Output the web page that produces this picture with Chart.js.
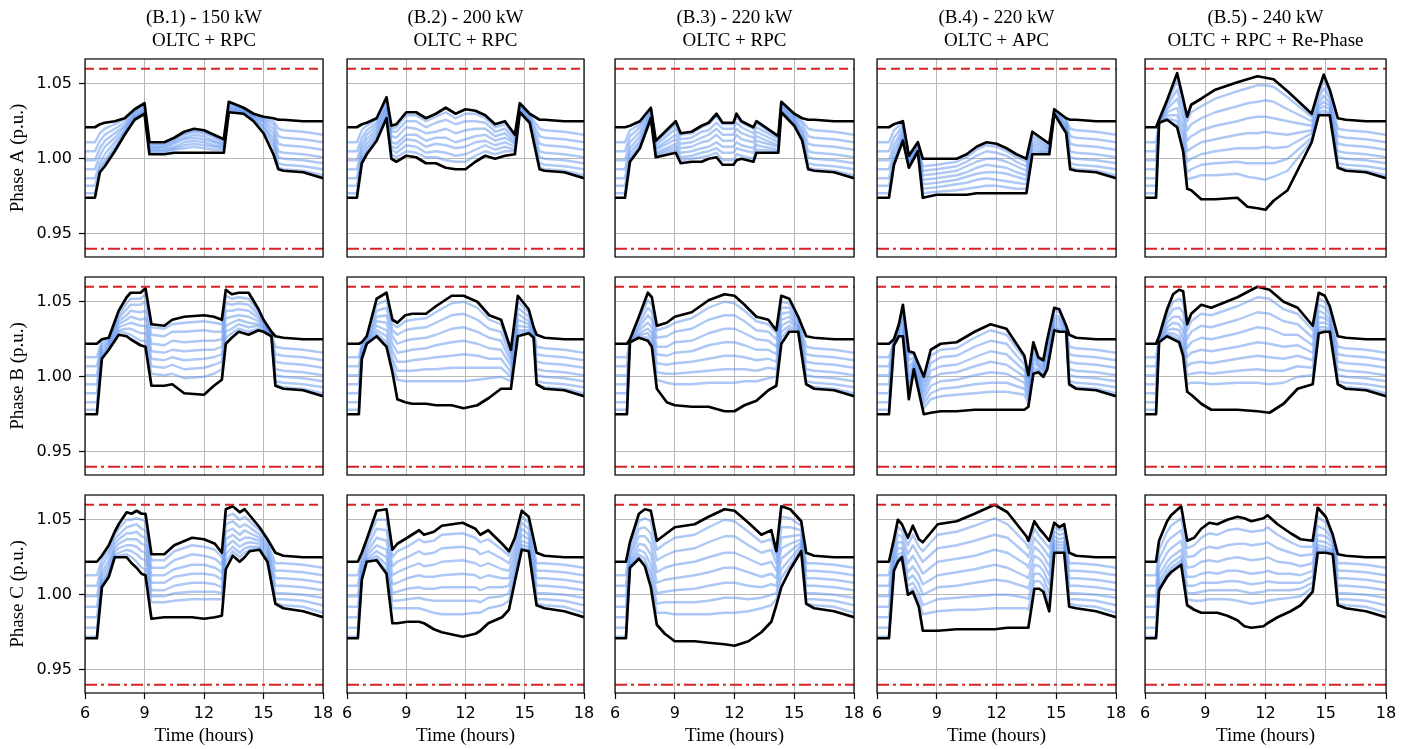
<!DOCTYPE html>
<html><head><meta charset="utf-8">
<script src="https://cdn.jsdelivr.net/npm/chart.js@4.4.1/dist/chart.umd.min.js"></script>
<style>
html,body{margin:0;padding:0;background:#fff;}
#fig{position:relative;width:1413px;height:749px;overflow:hidden;background:#fff;}
#fig canvas{position:absolute;}
</style></head><body><div id="fig"></div>
<script>
// ---------------- DATA ----------------
// Voltages are stored in milli-p.u. (1000 = 1.000 p.u.).
// Each row of a v-array = one time step: [max (black), 7 blue feeder lines (top->bottom), min (black)]
const xTicks = [6, 9, 12, 15, 18];
const yTicks = [0.95, 1.00, 1.05];
const upperLimit = [1.06, 1.06];
const lowerLimit = [0.94, 0.94];
const limitSpan = [6, 18];
const titles = [
  ['(B.1) - 150 kW', 'OLTC + RPC'],
  ['(B.2) - 200 kW', 'OLTC + RPC'],
  ['(B.3) - 220 kW', 'OLTC + RPC'],
  ['(B.4) - 220 kW', 'OLTC + APC'],
  ['(B.5) - 240 kW', 'OLTC + RPC + Re-Phase']
];
const phaseLabels = ['Phase A (p.u.)', 'Phase B (p.u.)', 'Phase C (p.u.)'];
const xLabel = 'Time (hours)';

// early-morning and evening rows (same in every case)
const headA = [1021,1011,1005,999,993,987,982,977,974];
const headB = [1022,1013,1007,1001,995,989,983,978,975];
const headC = [1022,1013,1006,999,992,985,978,972,971];
const tailAB16 = [1026,1019,1014,1009,1004,1000,996,993,992];
const tailAB17 = [1025,1018,1013,1008,1003,999,995,992,991];
const tailAB18 = [1025,1016,1011,1006,1001,997,993,989,987];
const tailC16 = [1026,1021,1016,1011,1006,1001,997,993,991];
const tailC17 = [1025,1020,1015,1010,1005,1000,996,992,989];
const tailC18 = [1025,1018,1013,1008,1003,998,993,988,985];

// ---- Phase A ----
const tA1 = [6,6.5,6.75,7,7.5,8,8.5,9,9.25,10,10.5,11,11.5,12,12.5,13,13.25,14,14.5,15,15.5,15.75,16,17,18];
const vA1 = [headA,headA,
 [1023,1017,1012,1007,1002,997,994,992,991],
 [1024,1020,1016,1012,1008,1003,999,997,995],
 [1025,1023,1020,1017,1014,1011,1008,1006,1005],
 [1027,1026,1024,1022,1021,1019,1018,1017,1016],
 [1033,1032,1031,1030,1029,1028,1027,1027,1026],
 [1037,1036,1035,1034,1033,1032,1032,1031,1030],
 [1011,1010,1009,1008,1007,1006,1005,1004,1003],
 [1011,1010,1009,1008,1007,1006,1005,1004,1003],
 [1014,1013,1012,1011,1010,1008,1007,1006,1004],
 [1018,1017,1016,1014,1013,1011,1009,1007,1004],
 [1020,1019,1018,1016,1014,1012,1010,1008,1004],
 [1019,1018,1017,1015,1013,1011,1009,1007,1004],
 [1016,1015,1014,1012,1011,1009,1008,1006,1004],
 [1013,1012,1011,1010,1009,1008,1007,1006,1004],
 [1038,1037,1036,1035,1034,1033,1033,1032,1031],
 [1034,1033,1033,1032,1032,1031,1031,1030,1030],
 [1030,1029,1029,1028,1028,1027,1026,1026,1025],
 [1028,1027,1026,1025,1024,1022,1021,1019,1017],
 [1027,1025,1023,1020,1017,1014,1011,1008,1003],
 [1026,1020,1015,1010,1005,1001,997,994,993],
 tailAB16,tailAB17,tailAB18];

const tA2 = [6,6.5,6.75,7,7.5,8,8.25,8.5,9,9.5,10,10.5,11,11.5,12,12.5,13,13.5,14,14.5,14.75,15.25,15.75,16,17,18];
const vA2 = [headA,headA,
 [1023,1019,1014,1010,1007,1004,1001,999,997],
 [1024,1022,1019,1016,1013,1010,1007,1005,1003],
 [1027,1026,1024,1022,1020,1018,1016,1014,1012],
 [1041,1039,1037,1035,1034,1032,1030,1029,1027],
 [1022,1020,1018,1015,1011,1008,1006,1003,1000],
 [1023,1021,1018,1014,1010,1007,1004,1001,998],
 [1031,1029,1025,1021,1016,1013,1009,1005,1002],
 [1031,1029,1025,1020,1016,1012,1008,1004,1001],
 [1027,1025,1021,1017,1012,1008,1004,1001,997],
 [1030,1028,1024,1018,1014,1010,1005,1001,997],
 [1034,1031,1026,1020,1014,1009,1004,999,994],
 [1030,1027,1023,1017,1011,1007,1002,998,993],
 [1033,1030,1025,1019,1013,1008,1003,998,993],
 [1032,1030,1025,1020,1015,1011,1006,1002,998],
 [1029,1027,1024,1020,1016,1012,1009,1005,1002],
 [1023,1021,1018,1015,1012,1009,1006,1003,1000],
 [1025,1023,1020,1017,1014,1011,1008,1005,1002],
 [1016,1015,1013,1011,1010,1008,1006,1005,1003],
 [1037,1036,1035,1034,1033,1033,1032,1031,1031],
 [1030,1029,1028,1027,1026,1025,1025,1024,1024],
 [1026,1020,1015,1010,1005,1001,997,994,993],
 tailAB16,tailAB17,tailAB18];

const tA3 = [6,6.5,6.75,7.25,7.8,8.05,9.05,9.3,9.85,10.35,10.7,11.1,11.4,11.95,12.1,12.35,12.95,13.1,14.2,14.35,15.0,15.4,15.7,16,17,18];
const vA3 = [headA,headA,
 [1022,1019,1015,1011,1007,1004,1001,999,998],
 [1025,1023,1021,1018,1015,1012,1010,1008,1007],
 [1034,1033,1032,1031,1030,1029,1028,1027,1027],
 [1012,1011,1009,1007,1006,1004,1003,1002,1001],
 [1025,1023,1020,1016,1013,1010,1008,1006,1004],
 [1017,1016,1013,1010,1007,1004,1001,999,997],
 [1018,1017,1014,1011,1008,1005,1002,1000,998],
 [1022,1021,1018,1014,1011,1007,1004,1001,998],
 [1024,1023,1019,1016,1012,1008,1005,1002,1000],
 [1030,1028,1024,1020,1016,1011,1007,1004,1001],
 [1024,1023,1020,1016,1012,1008,1004,999,996],
 [1024,1023,1020,1016,1012,1008,1004,999,996],
 [1030,1028,1024,1020,1016,1011,1007,1003,999],
 [1025,1024,1021,1017,1013,1009,1006,1002,1000],
 [1021,1020,1017,1014,1011,1007,1004,1000,998],
 [1025,1024,1021,1018,1015,1012,1009,1006,1004],
 [1015,1014,1013,1011,1009,1008,1006,1005,1004],
 [1038,1037,1036,1035,1034,1033,1032,1032,1031],
 [1030,1029,1028,1027,1026,1025,1024,1023,1022],
 [1027,1025,1023,1020,1018,1016,1014,1013,1012],
 [1026,1020,1015,1010,1005,1001,997,994,993],
 tailAB16,tailAB17,tailAB18];

const tA4 = [6,6.6,6.85,7.3,7.6,8.05,8.3,9,10,10.5,11,11.5,12,12.5,13,13.5,13.8,14.65,14.9,15.5,15.7,16,17,18];
const vA4 = [headA,headA,
 [1023,1019,1014,1009,1005,1001,998,996,996],
 [1025,1024,1022,1020,1018,1016,1014,1013,1012],
 [1002,1001,1000,999,998,997,996,995,994],
 [1011,1010,1009,1008,1007,1006,1005,1005,1005],
 [1000,995,992,989,986,983,980,977,974],
 [1000,996,993,990,987,984,981,978,976],
 [1000,998,995,992,989,986,983,979,976],
 [1003,1001,998,995,991,988,984,980,976],
 [1008,1006,1002,998,994,990,986,981,977],
 [1011,1009,1005,1000,996,991,987,982,977],
 [1010,1008,1004,1000,995,991,986,982,977],
 [1007,1005,1002,998,994,990,985,981,977],
 [1003,1001,998,995,991,988,984,980,977],
 [1000,998,995,992,989,986,983,980,977],
 [1018,1016,1014,1012,1010,1008,1006,1004,1003],
 [1010,1009,1008,1007,1006,1005,1004,1004,1003],
 [1033,1032,1032,1031,1031,1031,1030,1030,1030],
 [1027,1026,1025,1023,1022,1020,1019,1018,1017],
 [1026,1020,1015,1010,1005,1001,997,994,993],
 tailAB16,tailAB17,tailAB18];

const tA5 = [6,6.55,6.7,7.1,7.6,7.9,8.1,8.3,8.8,9.5,10.6,11.1,11.6,12.0,12.4,13.1,14.3,14.65,14.9,15.2,15.6,16,17,18];
const vA5 = [headA,headA,
 [1026,1025,1025,1024,1024,1024,1024,1024,1024],
 [1039,1037,1035,1033,1031,1029,1027,1026,1026],
 [1057,1052,1046,1040,1034,1029,1025,1022,1021],
 [1040,1037,1032,1027,1021,1016,1011,1007,1005],
 [1028,1025,1019,1012,1005,998,991,986,980],
 [1036,1031,1023,1015,1007,1000,993,987,979],
 [1040,1035,1027,1019,1011,1003,996,989,973],
 [1046,1040,1031,1022,1013,1005,997,989,973],
 [1051,1045,1035,1025,1016,1007,998,990,974],
 [1053,1047,1037,1027,1017,1007,997,988,968],
 [1055,1049,1038,1028,1017,1007,997,987,967],
 [1054,1049,1039,1028,1018,1008,997,986,966],
 [1053,1048,1038,1027,1017,1007,997,988,972],
 [1045,1041,1033,1025,1016,1008,1000,992,979],
 [1030,1028,1025,1022,1019,1017,1014,1012,1011],
 [1046,1043,1040,1037,1035,1033,1031,1030,1029],
 [1056,1052,1047,1042,1038,1035,1032,1030,1029],
 [1046,1043,1040,1037,1035,1033,1031,1030,1029],
 [1027,1020,1015,1010,1005,1001,997,995,994],
 tailAB16,tailAB17,tailAB18];

// ---- Phase B ----
const tB1 = [6,6.6,6.85,7.2,7.7,8.1,8.3,8.8,9.05,9.35,10.0,10.4,11.0,12.0,12.5,12.9,13.1,13.4,13.75,14.25,14.75,15.0,15.4,15.6,16,17,18];
const vB1 = [headB,headB,
 [1025,1024,1022,1020,1018,1016,1014,1013,1012],
 [1026,1025,1024,1023,1022,1021,1020,1019,1018],
 [1044,1041,1039,1037,1035,1033,1031,1030,1028],
 [1053,1049,1045,1041,1038,1035,1032,1029,1027],
 [1056,1052,1048,1044,1040,1036,1032,1028,1025],
 [1056,1052,1048,1043,1038,1034,1029,1024,1021],
 [1059,1055,1050,1044,1039,1034,1029,1024,1020],
 [1035,1033,1028,1022,1017,1012,1007,1002,994],
 [1034,1032,1027,1021,1016,1011,1006,1001,994],
 [1038,1035,1030,1024,1018,1013,1008,1002,995],
 [1040,1036,1030,1023,1017,1011,1005,999,989],
 [1041,1037,1031,1024,1018,1012,1006,1000,988],
 [1040,1036,1030,1024,1018,1013,1008,1002,994],
 [1038,1035,1030,1025,1020,1015,1010,1005,998],
 [1058,1054,1049,1044,1039,1034,1030,1026,1022],
 [1055,1052,1048,1044,1040,1036,1032,1029,1026],
 [1056,1053,1049,1045,1041,1038,1035,1032,1030],
 [1056,1052,1048,1044,1040,1036,1033,1030,1028],
 [1045,1043,1041,1039,1037,1035,1034,1032,1031],
 [1038,1037,1036,1035,1034,1033,1032,1031,1030],
 [1030,1029,1029,1028,1028,1028,1027,1027,1027],
 [1027,1020,1015,1010,1005,1001,997,995,994],
 tailAB16,tailAB17,tailAB18];

const tB2 = [6,6.6,6.75,7.0,7.5,8.0,8.3,8.55,8.95,9.3,10.0,10.5,11.3,11.9,12.6,13.2,13.8,14.3,14.65,15.2,15.45,15.6,16,17,18];
const vB2 = [headB,headB,
 [1023,1022,1020,1018,1016,1014,1013,1012,1012],
 [1027,1027,1026,1025,1024,1023,1023,1022,1022],
 [1052,1048,1044,1040,1037,1034,1031,1029,1027],
 [1056,1051,1046,1041,1036,1031,1027,1023,1020],
 [1038,1035,1031,1027,1022,1017,1012,1008,1003],
 [1036,1033,1028,1022,1016,1010,1004,998,985],
 [1041,1037,1031,1024,1017,1010,1004,997,983],
 [1042,1038,1032,1025,1018,1011,1004,997,982],
 [1042,1039,1033,1026,1019,1012,1005,997,982],
 [1047,1043,1036,1028,1021,1013,1005,997,981],
 [1054,1049,1041,1032,1023,1014,1006,997,981],
 [1054,1050,1042,1033,1024,1015,1006,997,979],
 [1050,1046,1038,1030,1022,1014,1006,998,981],
 [1041,1038,1032,1026,1019,1012,1006,999,986],
 [1038,1035,1030,1024,1018,1012,1006,1000,992],
 [1018,1016,1013,1010,1007,1003,1000,997,992],
 [1054,1050,1046,1042,1038,1034,1031,1029,1027],
 [1045,1043,1040,1037,1035,1033,1031,1030,1029],
 [1033,1032,1031,1030,1029,1028,1027,1027,1026],
 [1028,1020,1015,1010,1005,1001,997,995,995],
 tailAB16,tailAB17,tailAB18];

const tB3 = [6,6.6,6.75,7.2,7.65,7.85,8.1,8.6,9.0,9.85,10.7,11.5,12.0,12.5,13.1,13.7,14.1,14.35,14.75,15.2,15.6,16,17,18];
const vB3 = [headB,headB,
 [1025,1025,1024,1024,1024,1023,1023,1023,1023],
 [1040,1038,1035,1033,1031,1029,1028,1027,1026],
 [1056,1051,1046,1041,1036,1032,1029,1026,1024],
 [1053,1048,1043,1038,1033,1029,1025,1022,1020],
 [1034,1031,1026,1020,1015,1009,1003,998,992],
 [1036,1033,1027,1020,1014,1008,1002,996,983],
 [1040,1036,1030,1023,1016,1009,1002,995,981],
 [1043,1039,1032,1024,1017,1010,1003,995,980],
 [1051,1046,1038,1029,1021,1012,1004,996,980],
 [1055,1050,1041,1032,1023,1014,1005,996,977],
 [1054,1049,1041,1032,1023,1014,1005,996,977],
 [1048,1044,1037,1029,1021,1013,1005,997,981],
 [1040,1037,1031,1025,1018,1011,1004,997,984],
 [1038,1035,1030,1024,1018,1012,1006,999,991],
 [1031,1029,1025,1020,1015,1010,1005,1000,994],
 [1054,1050,1046,1042,1038,1034,1030,1026,1022],
 [1052,1049,1046,1043,1040,1037,1034,1032,1030],
 [1040,1038,1036,1034,1033,1032,1031,1030,1030],
 [1027,1020,1015,1010,1005,1001,997,995,995],
 tailAB16,tailAB17,tailAB18];

const tB4 = [6,6.6,6.85,7.1,7.3,7.6,7.85,8.35,8.7,9.2,10.0,10.9,11.7,12.5,13.4,13.6,13.85,14.1,14.35,14.55,14.9,15.15,15.5,15.65,16,17,18];
const vB4 = [headB,headB,
 [1025,1024,1024,1023,1023,1022,1022,1021,1021],
 [1035,1033,1032,1031,1030,1029,1028,1027,1027],
 [1048,1045,1041,1038,1035,1032,1030,1028,1027],
 [1017,1015,1011,1006,1001,996,992,988,985],
 [1016,1015,1013,1011,1009,1008,1007,1006,1005],
 [1000,997,994,991,988,985,982,979,975],
 [1018,1014,1009,1004,999,994,989,985,976],
 [1022,1018,1013,1007,1002,997,992,987,977],
 [1023,1019,1014,1008,1003,998,993,988,977],
 [1030,1026,1020,1013,1007,1001,995,989,978],
 [1035,1031,1024,1017,1010,1003,996,990,978],
 [1032,1028,1022,1015,1008,1002,996,990,978],
 [1014,1012,1008,1004,1000,996,992,988,978],
 [1001,999,996,993,990,987,985,982,980],
 [1023,1021,1018,1015,1012,1009,1006,1004,1002],
 [1013,1012,1011,1009,1008,1007,1005,1004,1003],
 [1011,1010,1008,1007,1005,1004,1002,1001,1000],
 [1025,1022,1019,1016,1013,1010,1008,1006,1005],
 [1046,1044,1041,1039,1037,1035,1033,1032,1031],
 [1045,1043,1040,1038,1036,1034,1032,1031,1030],
 [1034,1033,1033,1032,1032,1031,1031,1030,1030],
 [1028,1020,1015,1010,1005,1001,997,995,995],
 tailAB16,tailAB17,tailAB18];

const tB5 = [6,6.55,6.7,7.1,7.4,7.7,7.9,8.1,8.3,8.8,9.3,10.6,11.6,12.2,12.9,13.6,14.35,14.65,14.95,15.2,15.6,16,17,18];
const vB5 = [headB,headB,
 [1027,1026,1026,1025,1025,1024,1024,1023,1023],
 [1045,1042,1039,1036,1033,1031,1029,1028,1027],
 [1055,1050,1045,1040,1036,1032,1029,1027,1025],
 [1058,1052,1046,1040,1035,1031,1027,1025,1023],
 [1057,1050,1043,1036,1030,1025,1020,1017,1014],
 [1035,1031,1025,1019,1013,1007,1001,995,990],
 [1042,1037,1030,1023,1016,1009,1002,996,988],
 [1048,1042,1034,1026,1018,1010,1003,996,982],
 [1046,1041,1033,1025,1017,1009,1002,995,978],
 [1053,1047,1038,1029,1020,1012,1004,996,978],
 [1060,1053,1043,1033,1023,1014,1005,996,977],
 [1058,1052,1042,1032,1022,1013,1004,995,976],
 [1050,1045,1037,1028,1020,1012,1004,996,982],
 [1046,1042,1035,1028,1021,1014,1007,1000,992],
 [1034,1031,1026,1021,1016,1011,1006,1001,995],
 [1056,1052,1048,1044,1040,1036,1033,1031,1029],
 [1054,1050,1046,1042,1039,1036,1033,1031,1030],
 [1047,1044,1041,1038,1036,1034,1032,1031,1030],
 [1027,1020,1015,1010,1005,1001,997,995,995],
 tailAB16,tailAB17,tailAB18];

// ---- Phase C ----
const tC1 = [6,6.6,6.85,7.2,7.5,7.7,8.1,8.35,8.6,8.85,9.05,9.35,10.0,10.5,11.4,12.0,12.55,12.9,13.1,13.45,13.8,14.05,14.3,14.8,15.2,15.6,16,17,18];
const vC1 = [headC,headC,
 [1026,1023,1019,1015,1012,1009,1007,1006,1005],
 [1033,1030,1027,1023,1020,1017,1015,1013,1012],
 [1042,1040,1037,1034,1031,1029,1027,1026,1025],
 [1047,1044,1040,1037,1034,1031,1028,1026,1025],
 [1055,1050,1045,1041,1037,1033,1030,1027,1025],
 [1054,1050,1046,1041,1037,1033,1029,1025,1021],
 [1056,1051,1047,1042,1037,1032,1027,1022,1018],
 [1054,1050,1044,1039,1034,1029,1024,1018,1014],
 [1054,1049,1043,1038,1033,1028,1023,1017,1013],
 [1027,1023,1018,1013,1008,1003,999,995,984],
 [1027,1023,1018,1013,1008,1003,999,995,985],
 [1033,1029,1023,1017,1012,1006,1001,996,985],
 [1038,1033,1027,1020,1014,1008,1002,997,985],
 [1037,1032,1026,1020,1014,1008,1002,997,984],
 [1034,1030,1024,1018,1013,1007,1002,997,985],
 [1028,1025,1020,1015,1010,1005,1001,997,986],
 [1057,1052,1047,1042,1037,1032,1027,1022,1017],
 [1059,1054,1049,1044,1040,1036,1032,1029,1026],
 [1055,1050,1045,1040,1036,1032,1028,1025,1022],
 [1057,1052,1047,1043,1038,1034,1031,1028,1025],
 [1053,1049,1045,1041,1038,1035,1032,1030,1029],
 [1045,1043,1040,1038,1036,1034,1032,1031,1030],
 [1037,1035,1033,1031,1029,1027,1025,1023,1022],
 [1028,1021,1016,1011,1006,1001,997,994,994],
 tailC16,tailC17,tailC18];

const tC2 = [6,6.55,6.75,7.0,7.5,8.0,8.3,8.55,9.05,9.65,9.9,10.4,10.8,11.85,12.5,12.75,13.15,13.85,14.2,14.5,14.85,15.2,15.6,16,17,18];
const vC2 = [headC,headC,
 [1028,1025,1022,1019,1016,1014,1012,1011,1010],
 [1037,1034,1031,1028,1026,1024,1023,1022,1022],
 [1056,1050,1044,1038,1033,1029,1026,1024,1023],
 [1057,1050,1043,1036,1030,1025,1020,1016,1014],
 [1030,1025,1019,1013,1007,1001,996,991,981],
 [1034,1029,1022,1015,1008,1002,996,991,981],
 [1038,1032,1025,1018,1011,1004,997,991,982],
 [1043,1037,1029,1021,1013,1005,998,991,982],
 [1040,1035,1027,1019,1012,1004,997,990,981],
 [1042,1036,1028,1020,1012,1004,996,988,977],
 [1046,1040,1031,1022,1013,1005,996,987,975],
 [1048,1041,1032,1023,1014,1005,996,987,972],
 [1044,1038,1030,1021,1013,1005,996,988,974],
 [1040,1035,1027,1019,1011,1003,995,988,976],
 [1043,1037,1029,1021,1013,1005,998,991,981],
 [1034,1030,1024,1017,1011,1005,999,993,985],
 [1029,1026,1021,1016,1011,1006,1001,996,990],
 [1038,1035,1031,1027,1023,1019,1015,1012,1009],
 [1056,1052,1048,1044,1040,1036,1033,1031,1030],
 [1052,1048,1044,1040,1037,1034,1032,1030,1029],
 [1028,1021,1016,1011,1006,1001,997,994,993],
 tailC16,tailC17,tailC18];

const tC3 = [6,6.55,6.75,7.2,7.5,7.8,8.1,8.5,9.0,10.0,10.7,11.5,12.0,12.7,13.35,13.85,14.1,14.35,14.8,15.35,15.6,16,17,18];
const vC3 = [headC,headC,
 [1035,1032,1028,1025,1022,1020,1019,1018,1018],
 [1054,1049,1044,1039,1034,1030,1027,1025,1024],
 [1057,1051,1045,1039,1033,1028,1024,1021,1019],
 [1056,1049,1041,1034,1027,1020,1014,1009,1005],
 [1036,1030,1023,1015,1008,1001,994,988,980],
 [1040,1034,1026,1018,1010,1002,995,988,974],
 [1045,1038,1029,1020,1011,1003,995,987,969],
 [1047,1040,1031,1022,1013,1004,995,987,969],
 [1052,1045,1035,1025,1015,1006,996,987,968],
 [1057,1050,1039,1028,1018,1008,998,988,967],
 [1056,1049,1039,1028,1018,1008,998,988,966],
 [1048,1042,1033,1024,1015,1006,997,989,969],
 [1040,1035,1028,1020,1012,1005,998,991,975],
 [1043,1037,1030,1022,1014,1007,1000,993,982],
 [1029,1026,1021,1016,1011,1006,1001,997,993],
 [1059,1052,1045,1038,1031,1024,1017,1011,1005],
 [1057,1051,1045,1039,1034,1029,1024,1020,1017],
 [1049,1046,1043,1040,1037,1035,1033,1031,1029],
 [1028,1021,1016,1011,1006,1001,997,994,994],
 tailC16,tailC17,tailC18];

const tC4 = [6,6.6,6.85,7.05,7.25,7.55,7.8,8.1,8.3,9.05,10.0,10.9,11.9,12.55,13.5,13.6,13.9,14.15,14.35,14.65,14.9,15.15,15.4,15.65,16,17,18];
const vC4 = [headC,headC,
 [1037,1033,1029,1025,1022,1019,1017,1016,1016],
 [1050,1045,1040,1035,1031,1027,1024,1023,1022],
 [1047,1043,1039,1035,1031,1028,1026,1025,1025],
 [1038,1033,1027,1021,1015,1010,1006,1002,1000],
 [1046,1040,1033,1026,1019,1013,1008,1004,1002],
 [1037,1032,1026,1019,1013,1007,1001,996,992],
 [1035,1029,1022,1014,1007,1000,993,987,976],
 [1047,1040,1031,1022,1013,1005,997,989,976],
 [1049,1042,1033,1024,1015,1006,998,990,977],
 [1054,1046,1036,1026,1017,1008,999,990,977],
 [1060,1051,1040,1030,1020,1010,1000,991,977],
 [1055,1047,1038,1028,1018,1009,1000,991,978],
 [1039,1034,1027,1020,1012,1005,998,991,978],
 [1036,1031,1025,1018,1011,1004,997,990,978],
 [1049,1044,1038,1032,1026,1020,1014,1009,1004],
 [1044,1039,1034,1029,1024,1019,1014,1009,1004],
 [1041,1036,1031,1026,1021,1016,1011,1006,1002],
 [1036,1031,1025,1019,1013,1007,1001,995,989],
 [1048,1045,1042,1039,1036,1034,1032,1030,1028],
 [1045,1043,1040,1037,1035,1033,1031,1029,1028],
 [1047,1044,1041,1038,1035,1033,1031,1029,1028],
 [1028,1021,1016,1011,1006,1001,997,994,992],
 tailC16,tailC17,tailC18];

const tC5 = [6,6.55,6.7,7.1,7.3,7.8,8.1,8.45,8.8,9.2,9.6,10.1,10.6,10.95,11.3,11.9,12.1,12.6,13.25,13.75,14.35,14.6,15.0,15.35,15.6,16,17,18];
const vC5 = [headC,headC,
 [1036,1030,1024,1018,1013,1009,1006,1004,1003],
 [1049,1042,1035,1028,1022,1018,1015,1013,1012],
 [1053,1046,1038,1031,1025,1021,1018,1016,1015],
 [1059,1051,1043,1036,1030,1026,1023,1021,1020],
 [1036,1031,1025,1018,1012,1006,1001,997,993],
 [1038,1033,1026,1019,1012,1006,1001,996,990],
 [1044,1038,1030,1022,1014,1008,1002,996,988],
 [1048,1041,1032,1023,1015,1008,1003,997,988],
 [1047,1040,1031,1022,1014,1008,1003,997,988],
 [1050,1043,1033,1024,1016,1009,1003,997,986],
 [1052,1044,1034,1025,1016,1009,1003,996,983],
 [1051,1043,1034,1024,1015,1008,1002,995,979],
 [1049,1042,1033,1023,1014,1007,1001,994,978],
 [1051,1043,1034,1024,1015,1008,1002,995,979],
 [1053,1045,1035,1025,1016,1009,1003,996,981],
 [1047,1040,1031,1022,1014,1008,1003,997,985],
 [1041,1035,1028,1021,1014,1008,1003,998,989],
 [1037,1032,1026,1019,1013,1008,1004,999,993],
 [1036,1032,1027,1021,1016,1012,1008,1005,1002],
 [1058,1052,1046,1040,1036,1033,1031,1029,1028],
 [1052,1048,1043,1039,1035,1032,1030,1029,1028],
 [1040,1038,1036,1034,1032,1030,1029,1028,1027],
 [1027,1021,1016,1011,1006,1001,997,994,993],
 tailC16,tailC17,tailC18];

// ---------------- LAYOUT / STYLE ----------------
const panels = [
  [tA1,vA1],[tA2,vA2],[tA3,vA3],[tA4,vA4],[tA5,vA5],
  [tB1,vB1],[tB2,vB2],[tB3,vB3],[tB4,vB4],[tB5,vB5],
  [tC1,vC1],[tC2,vC2],[tC3,vC3],[tC4,vC4],[tC5,vC5]
];
const colLeft = [85, 347, 615, 877, 1145];
const colWidth = [238, 237, 239, 239, 241];
const rowTop = [59, 277, 495];
const rowHeight = 198;
const FIG_H = 749;
const Y_MIN = 0.9345, Y_MAX = 1.0665;
const SERIF = "'Liberation Serif','Times New Roman',serif";
const SANS = "'DejaVu Sans',sans-serif";
const RED = 'rgb(218,35,38)';
const BLUE = 'rgba(100,149,237,0.52)';
const GRID = '#b8b8b8';

const framePlugin = {
  id: 'frame',
  afterDraw(chart) {
    const a = chart.chartArea, ctx = chart.ctx;
    ctx.save();
    ctx.strokeStyle = '#000';
    ctx.lineWidth = 1.2;
    ctx.strokeRect(a.left, a.top, a.right - a.left, a.bottom - a.top);
    ctx.restore();
  }
};

const fig = document.getElementById('fig');
for (let r = 0; r < 3; r++) {
  for (let c = 0; c < 5; c++) {
    const [T, V] = panels[r * 5 + c];
    const ML = c === 0 ? 0 : (r === 2 ? 14 : 4);
    const MR = r === 2 ? 14 : 4;
    const M = 4;
    const pl = colLeft[c], pr = pl + colWidth[c], pt = rowTop[r], pb = pt + rowHeight;
    const L = pl - (c === 0 ? pl : ML);
    const R = pr + MR;
    const Tp = r === 0 ? 0 : pt - M;
    const B = r === 2 ? FIG_H : pb + M;
    const cv = document.createElement('canvas');
    cv.width = R - L; cv.height = B - Tp;
    cv.style.left = L + 'px'; cv.style.top = Tp + 'px';
    cv.style.width = (R - L) + 'px'; cv.style.height = (B - Tp) + 'px';
    fig.appendChild(cv);

    const series = j => V.map((row, i) => ({ x: T[i], y: row[j] / 1000 }));
    const datasets = [];
    datasets.push({ data: limitSpan.map((x, i) => ({ x, y: upperLimit[i] })), borderColor: RED, borderWidth: 2.2, borderDash: [9, 5], order: 0 });
    datasets.push({ data: limitSpan.map((x, i) => ({ x, y: lowerLimit[i] })), borderColor: RED, borderWidth: 2.2, borderDash: [12, 4, 3, 4], order: 0 });
    datasets.push({ data: series(0), borderColor: '#000', borderWidth: 2.7, order: 1 });
    datasets.push({ data: series(8), borderColor: '#000', borderWidth: 2.7, order: 1 });
    for (let j = 1; j <= 7; j++) {
      datasets.push({ data: series(j), borderColor: BLUE, borderWidth: 2.4, order: 2 });
    }

    new Chart(cv, {
      type: 'line',
      data: { datasets },
      plugins: [framePlugin],
      options: {
        responsive: false, animation: false, devicePixelRatio: 1,
        events: [],
        layout: { padding: { left: c === 0 ? 0 : ML, right: MR, top: r === 0 ? 0 : M, bottom: r === 2 ? 0 : M } },
        elements: { point: { radius: 0 }, line: { tension: 0, borderJoinStyle: 'round', borderCapStyle: 'butt', fill: false } },
        plugins: {
          legend: { display: false }, tooltip: { enabled: false },
          title: r === 0 ? {
            display: true, text: titles[c], fullSize: false, color: '#000',
            font: { family: SERIF, size: 19, weight: 'normal', lineHeight: 1.21 },
            padding: { top: 7, bottom: 6 }
          } : { display: false }
        },
        scales: {
          x: {
            type: 'linear', min: 6, max: 18,
            afterBuildTicks: s => { s.ticks = xTicks.map(v => ({ value: v })); },
            afterFit: s => { s.height = r === 2 ? FIG_H - pb : 0; s.paddingLeft = 0; s.paddingRight = 0; },
            border: { display: false },
            grid: { color: GRID, lineWidth: 1, drawTicks: r === 2, tickLength: 6, tickColor: '#000', tickWidth: 1.2 },
            ticks: { display: r === 2, autoSkip: false, maxRotation: 0, minRotation: 0, padding: 5, color: '#000',
                     font: { family: SANS, size: 16 }, callback: v => String(v) },
            title: { display: r === 2, text: xLabel, color: '#000', font: { family: SERIF, size: 19 }, padding: { top: 0, bottom: 1.6 } }
          },
          y: {
            type: 'linear', min: Y_MIN, max: Y_MAX,
            afterBuildTicks: s => { s.ticks = yTicks.map(v => ({ value: v })); },
            afterFit: s => { s.width = c === 0 ? colLeft[0] : 0; s.paddingTop = 0; s.paddingBottom = 0; },
            border: { display: false },
            grid: { color: GRID, lineWidth: 1, drawTicks: c === 0, tickLength: 6, tickColor: '#000', tickWidth: 1.2 },
            ticks: { display: c === 0, padding: 7, color: '#000', font: { family: SANS, size: 16 }, callback: v => v.toFixed(2) },
            title: { display: c === 0, text: phaseLabels[r], color: '#000', font: { family: SERIF, size: 19 }, padding: { top: 6.6, bottom: 0 } }
          }
        }
      }
    });
  }
}
</script></body></html>
